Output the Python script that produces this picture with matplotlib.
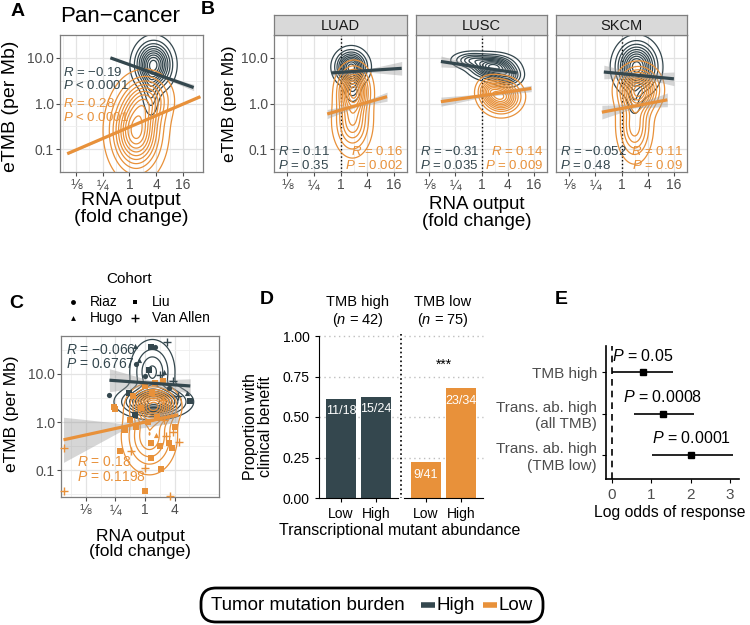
import numpy as np
import matplotlib.pyplot as plt
from matplotlib.patches import FancyBboxPatch
from matplotlib.lines import Line2D

plt.rcParams['font.family'] = ['Liberation Sans', 'DejaVu Sans']
plt.rcParams['mathtext.fontset'] = 'custom'
plt.rcParams['mathtext.it'] = 'Liberation Sans:italic'
plt.rcParams['mathtext.rm'] = 'Liberation Sans'

DARK = '#34474e'
ORANGE = '#e8913a'
TICKCOL = '#4d4d4d'
W, H = 750, 625

# ---------------- data ----------------
# x = log2 RNA output (fold change), y = log10 eTMB (per Mb)
fc_ticks = [-4, -2, 0, 2, 4]
fc_labels = ['⅛', '¼', '1', '4', '16']
tmb_ticks = [-1, 0, 1]
tmb_labels = ['0.1', '1.0', '10.0']

# 2d density estimates, read off as blobs: (x, y, sx, sy, weight)
pan_high_blobs = [(1.8, 0.85, 0.75, 0.28, 1.0), (1.6, 0.25, 0.35, 0.3, 0.25)]
pan_low_blobs = [(0.5, -0.6, 1.05, 0.5, 1.0), (1.4, 0.1, 0.95, 0.3, 0.45)]
luad_high_blobs = [(0.8, 0.8, 0.65, 0.2, 1.0), (0.9, 0.4, 0.35, 0.2, 0.3)]
luad_low_blobs = [(1.0, 0.3, 0.65, 0.28, 1.0), (0.9, -0.4, 0.75, 0.38, 0.6)]
lusc_high_blobs = [(0.9, 0.8, 0.9, 0.14, 1.0), (-0.8, 0.95, 0.8, 0.1, 0.4), (2.0, 0.6, 0.6, 0.12, 0.5)]
lusc_low_blobs = [(1.5, 0.15, 0.8, 0.2, 1.0), (0.6, 0.3, 0.5, 0.15, 0.4)]
skcm_high_blobs = [(1.15, 0.8, 0.85, 0.3, 1.0), (1.0, 0.1, 0.3, 0.2, 0.2)]
skcm_low_blobs = [(1.3, 0.3, 0.85, 0.27, 1.0), (1.0, -0.5, 0.7, 0.4, 0.55)]
cohort_high_blobs = [(0.6, 0.42, 1.15, 0.16, 1.0), (0.5, 1.05, 0.8, 0.35, 0.4)]
cohort_low_blobs = [(0.6, 0.35, 0.8, 0.2, 1.0), (0.3, -0.3, 0.95, 0.4, 0.5)]

# regression fits: x range, fitted y at ends, CI half width (left, middle, right)
pan_high_fit = ([-1.43, 4.8], [1.0, 0.35], [0.03, 0.015, 0.07])
pan_low_fit = ([-4.66, 5.3], [-1.1, 0.15], [0.02, 0.01, 0.02])
luad_high_fit = ([-0.64, 4.6], [0.67, 0.77], [0.07, 0.03, 0.15])
luad_low_fit = ([-1.0, 3.5], [-0.23, 0.15], [0.1, 0.03, 0.1])
lusc_high_fit = ([-3.1, 2.7], [0.92, 0.67], [0.12, 0.03, 0.08])
lusc_low_fit = ([-3.1, 3.8], [0.04, 0.33], [0.1, 0.03, 0.07])
skcm_high_fit = ([-1.35, 4.0], [0.69, 0.54], [0.15, 0.04, 0.15])
skcm_low_fit = ([-1.5, 3.5], [-0.19, 0.08], [0.15, 0.04, 0.15])
cohort_high_fit = ([-2.4, 3.06], [0.87, 0.75], [0.24, 0.06, 0.15])
cohort_low_fit = ([-5.5, 2.25], [-0.37, 0.15], [0.47, 0.08, 0.15])

pan_stats = [('−0.19', '< 0.0001'), ('0.28', '< 0.0001')]
b_names = ['LUAD', 'LUSC', 'SKCM']
b_stats = [(('0.11', '= 0.35'), ('0.16', '= 0.002')),
           (('−0.31', '= 0.035'), ('0.14', '= 0.009')),
           (('−0.052', '= 0.48'), ('0.11', '= 0.09'))]
cohort_stats = [('−0.066', '= 0.6767'), ('0.18', '= 0.1198')]

# panel C patients: (log2 fold change, log10 eTMB, cohort)
c_high_pts = [(1.5, 1.67, 'Van Allen'), (-0.69, 1.58, 'Hugo'), (0.4, 1.56, 'Liu'),
              (0.69, 1.56, 'Riaz'), (-0.4, 1.3, 'Hugo'), (-0.6, 1.2, 'Riaz'),
              (0.29, 1.08, 'Liu'), (1.3, 1.04, 'Hugo'), (1.0, 0.98, 'Van Allen'),
              (-2.4, 0.56, 'Riaz'), (3.07, 0.44, 'Liu'), (2.85, 0.6, 'Hugo'),
              (-0.7, 0.15, 'Liu'), (-1.1, 0.6, 'Liu'), (0.0, 0.95, 'Riaz'),
              (1.6, 0.7, 'Riaz'), (2.2, 0.55, 'Van Allen'), (1.9, 0.85, 'Van Allen')]
c_low_pts = [(-5.49, -0.55, 'Van Allen'), (-5.49, -1.43, 'Van Allen'), (-2.06, 0.32, 'Liu'),
             (-1.67, -0.6, 'Liu'), (-0.92, -0.6, 'Van Allen'), (0.0, -1.44, 'Liu'),
             (1.1, -0.98, 'Liu'), (0.0, -0.96, 'Van Allen'), (0.4, -0.75, 'Liu'),
             (2.3, -0.42, 'Van Allen'), (1.6, -0.44, 'Liu'), (0.75, -0.27, 'Hugo'),
             (0.4, -0.44, 'Liu'), (-2.0, 0.27, 'Liu'), (-1.35, -0.17, 'Liu'),
             (1.3, 0.04, 'Van Allen'), (-1.0, 0.05, 'Liu'), (-0.6, -0.1, 'Liu'),
             (0.2, 0.0, 'Liu'), (0.8, 0.1, 'Liu'), (1.4, -0.3, 'Van Allen'),
             (1.9, -0.2, 'Van Allen'), (1.0, -0.5, 'Liu'), (1.8, -0.55, 'Liu'),
             (-0.3, 0.3, 'Liu'), (0.5, 0.6, 'Liu'), (-0.8, 0.55, 'Liu'),
             (1.2, 0.45, 'Van Allen'), (2.0, -0.1, 'Liu'), (0.7, 0.82, 'Liu'),
             (1.2, 0.85, 'Liu'), (0.0, 0.75, 'Liu'), (1.68, -1.53, 'Van Allen')]
cohorts = ['Riaz', 'Hugo', 'Liu', 'Van Allen']
cohort_markers = {'Riaz': 'o', 'Hugo': '^', 'Liu': 's', 'Van Allen': '+'}

# panel D
d_groups = ['TMB high', 'TMB low']
d_n = [42, 75]
d_cats = ['Low', 'High']
d_resp = [[11, 15], [9, 23]]
d_total = [[18, 24], [41, 34]]

# panel E
e_labels = ['TMB high', 'Trans. ab. high\n(all TMB)', 'Trans. ab. high\n(TMB low)']
e_est = [0.78, 1.3, 2.02]
e_lo = [0.0, 0.57, 1.02]
e_hi = [1.55, 2.08, 3.08]
e_p = ['0.05', '0.0008', '0.0001']


# ---------------- helpers ----------------
fig = plt.figure(figsize=(7.5, 6.25), dpi=100)


def px_axes(x0, y0, x1, y1):
    return fig.add_axes([x0 / W, 1 - y1 / H, (x1 - x0) / W, (y1 - y0) / H])


def ftext(x, y, s, **kw):
    fig.text(x / W, 1 - y / H, s, **kw)


def style_bw(ax, xlim, ylim, show_y=True):
    ax.set_xlim(*xlim)
    ax.set_ylim(*ylim)
    ax.set_xticks(fc_ticks)
    ax.set_xticklabels(fc_labels)
    ax.set_yticks(tmb_ticks)
    ax.set_yticklabels(tmb_labels if show_y else [])
    ax.set_xticks([-5, -3, -1, 1, 3, 5], minor=True)
    ax.set_yticks([-1.5, -0.5, 0.5, 1.5], minor=True)
    ax.grid(True, which='major', color='#e3e3e3', lw=0.9)
    ax.grid(True, which='minor', color='#eeeeee', lw=0.6)
    ax.set_axisbelow(True)
    for s in ax.spines.values():
        s.set_color('#7f7f7f')
        s.set_linewidth(0.9)
    ax.tick_params(which='major', length=3, pad=1.5, color='#4d4d4d', labelcolor=TICKCOL, labelsize=10)
    ax.tick_params(which='minor', length=0)


def density(ax, blobs, color):
    gx = np.linspace(-7, 7, 300)
    gy = np.linspace(-2.5, 2.5, 300)
    X, Y = np.meshgrid(gx, gy)
    Z = np.zeros_like(X)
    for x, y, sx, sy, w in blobs:
        Z += w * np.exp(-0.5 * (((X - x) / sx) ** 2 + ((Y - y) / sy) ** 2))
    levels = np.linspace(0.06, 0.93, 10) * Z.max()
    ax.contour(X, Y, Z, levels=levels, colors=color, linewidths=0.9, zorder=2)


def fit(ax, f, color):
    xs, ys, ci = f
    xm = (xs[0] + xs[1]) / 2
    ym = (ys[0] + ys[1]) / 2
    bx = [xs[0], xm, xs[1]]
    by = [ys[0], ym, ys[1]]
    ax.fill_between(bx, np.array(by) - ci, np.array(by) + ci, color='#999999', alpha=0.4, lw=0, zorder=3)
    ax.plot(xs, ys, color=color, lw=2.3, zorder=4, solid_capstyle='butt')


def stat_text(ax, x, y, stats, color, ha='left', size=9.5):
    r, p = stats
    ax.text(x, y, '$R$ = %s\n$P$ %s' % (r, p), color=color, ha=ha, va='center',
            fontsize=size, linespacing=1.05, transform=ax.transAxes, zorder=5)


# ---------------- panel A ----------------
axA = px_axes(60, 35, 203, 172)
style_bw(axA, (-5.2, 5.5), (-1.42, 1.44))
density(axA, pan_high_blobs, DARK)
density(axA, pan_low_blobs, ORANGE)
fit(axA, pan_high_fit, DARK)
fit(axA, pan_low_fit, ORANGE)
stat_text(axA, 0.02, 0.68, pan_stats[0], DARK)
stat_text(axA, 0.02, 0.45, pan_stats[1], ORANGE)
ftext(60, 17, 'Pan−cancer', fontsize=16, va='center')
ftext(18, 12, 'A', fontsize=14, fontweight='bold', va='center', ha='center')
ftext(131, 209, 'RNA output\n(fold change)', fontsize=14, ha='center', va='center', linespacing=1.05)
ftext(11, 106, 'eTMB (per Mb)', fontsize=14, rotation=90, ha='center', va='center')

# ---------------- panel B ----------------
b_boxes = [(274, 407), (416, 547), (556, 687)]
b_blobs = [(luad_high_blobs, luad_low_blobs), (lusc_high_blobs, lusc_low_blobs),
           (skcm_high_blobs, skcm_low_blobs)]
b_fits = [(luad_high_fit, luad_low_fit), (lusc_high_fit, lusc_low_fit),
          (skcm_high_fit, skcm_low_fit)]
for i, (x0, x1) in enumerate(b_boxes):
    ax = px_axes(x0, 35, x1, 172)
    style_bw(ax, (-3.47, 5.0), (-1.42, 1.44), show_y=(i == 0))
    if i > 0:
        ax.tick_params(axis='y', length=0)
    ax.axvline(0, color='black', ls=':', lw=1, zorder=1)
    density(ax, b_blobs[i][0], DARK)
    density(ax, b_blobs[i][1], ORANGE)
    fit(ax, b_fits[i][0], DARK)
    fit(ax, b_fits[i][1], ORANGE)
    stat_text(ax, 0.03, 0.1, b_stats[i][0], DARK)
    stat_text(ax, 0.97, 0.1, b_stats[i][1], ORANGE, ha='right')
    sax = px_axes(x0, 15, x1, 35)
    sax.set_facecolor('#d9d9d9')
    sax.set_xticks([])
    sax.set_yticks([])
    for s in sax.spines.values():
        s.set_color('#7f7f7f')
        s.set_linewidth(0.9)
    sax.text(0.5, 0.45, b_names[i], ha='center', va='center', fontsize=10.5, color='#1a1a1a',
             transform=sax.transAxes)
ftext(208, 10, 'B', fontsize=14, fontweight='bold', va='center', ha='center')
ftext(477, 213, 'RNA output\n(fold change)', fontsize=13.5, ha='center', va='center', linespacing=1.05)
ftext(230, 104, 'eTMB (per Mb)', fontsize=12.5, rotation=90, ha='center', va='center')

# ---------------- panel C ----------------
axC = px_axes(61, 336, 219, 497)
style_bw(axC, (-5.67, 3.45), (-1.56, 1.79))
axC.set_xticks([-4, -2, 0, 2])
axC.set_xticklabels(['⅛', '¼', '1', '4'])
density(axC, cohort_high_blobs, DARK)
density(axC, cohort_low_blobs, ORANGE)
for pts, col in [(c_high_pts, DARK), (c_low_pts, ORANGE)]:
    for c in cohorts:
        xs = [p[0] for p in pts if p[2] == c]
        ys = [p[1] for p in pts if p[2] == c]
        m = cohort_markers[c]
        axC.scatter(xs, ys, marker=m, s=14 if m != '+' else 40, color=col,
                    linewidths=1 if m == '+' else 0, zorder=4, clip_on=False)
fit(axC, cohort_high_fit, DARK)
fit(axC, cohort_low_fit, ORANGE)
stat_text(axC, 0.03, 0.87, cohort_stats[0], DARK, size=10)
stat_text(axC, 0.1, 0.17, cohort_stats[1], ORANGE, size=10)

# cohort legend (two columns, drawn by hand to match spacing)
ftext(129, 279, 'Cohort', fontsize=11, ha='center', va='center')
leg_pos = {'Riaz': (73, 302), 'Hugo': (73, 318), 'Liu': (135, 302), 'Van Allen': (135, 318)}
for c in cohorts:
    lx, ly = leg_pos[c]
    m = cohort_markers[c]
    fig.add_artist(Line2D([lx / W], [1 - ly / H], ls='', marker=m, color='black',
                          markersize=3.5 if m != '+' else 6, markeredgewidth=1 if m == '+' else 0))
    ftext(lx + 17, ly, c, fontsize=10, ha='left', va='center')
ftext(16, 303, 'C', fontsize=14, fontweight='bold', va='center', ha='center')
ftext(140, 544, 'RNA output\n(fold change)', fontsize=12.5, ha='center', va='center', linespacing=1.05)
ftext(12, 414, 'eTMB (per Mb)', fontsize=12.5, rotation=90, ha='center', va='center')

# ---------------- panel D ----------------
d_boxes = [(319, 398), (404, 483)]
d_colors = [DARK, ORANGE]
for i, (x0, x1) in enumerate(d_boxes):
    ax = px_axes(x0, 336, x1, 498)
    props = [r / t for r, t in zip(d_resp[i], d_total[i])]
    ax.bar(range(len(d_cats)), props, width=0.87, color=d_colors[i], zorder=2)
    for j, p in enumerate(props):
        ax.text(j, p - 0.075, '%d/%d' % (d_resp[i][j], d_total[i][j]), color='white',
                ha='center', va='center', fontsize=9)
    ax.set_xlim(-0.62, 1.62)
    ax.set_ylim(0, 1.0)
    ax.set_xticks(range(len(d_cats)))
    ax.set_xticklabels(d_cats)
    ax.set_yticks([0, 0.25, 0.5, 0.75, 1.0])
    for yv in [0.25, 0.5, 0.75, 1.0]:
        ax.axhline(yv, color='#bfbfbf', ls=(0, (1, 2.5)), lw=1, zorder=1, clip_on=False)
    ax.spines['top'].set_visible(False)
    ax.spines['right'].set_visible(False)
    ax.tick_params(labelsize=10, colors='black', length=3)
    if i == 0:
        ax.set_yticklabels(['0.00', '0.25', '0.50', '0.75', '1.00'])
    else:
        ax.spines['left'].set_visible(False)
        ax.tick_params(axis='y', length=0, labelleft=False)
        ax.text(0.5, 0.82, '***', ha='center', va='center', fontsize=10)
    ftext((x0 + x1) / 2 - 1, 312, '%s\n($\\it{n}$ = %d)' % (d_groups[i], d_n[i]),
          ha='center', va='center', fontsize=10.5, linespacing=1.1)
fig.add_artist(Line2D([401 / W, 401 / W], [1 - 334 / H, 1 - 498 / H], color='black', ls=':', lw=1.2))
ftext(267, 300, 'D', fontsize=14, fontweight='bold', va='center', ha='center')
ftext(258, 427, 'Proportion with\nclinical benefit', fontsize=11.5, rotation=90, ha='center', va='center',
      linespacing=1.05)
ftext(400, 531, 'Transcriptional mutant abundance', fontsize=11.5, ha='center', va='center')

# ---------------- panel E ----------------
axE = px_axes(606, 346, 739, 479)
rows = [3, 2, 1]
axE.hlines(rows, e_lo, e_hi, color='black', lw=1.2, zorder=3)
axE.plot(e_est, rows, 's', color='black', markersize=5, zorder=4)
for r, e, p in zip(rows, e_est, e_p):
    axE.text(e, r + 0.4, '$P$ = %s' % p, ha='center', va='center', fontsize=11.5)
axE.axvline(0, color='black', ls=(0, (4, 3)), lw=1.2, zorder=2)
axE.set_xlim(-0.15, 3.23)
axE.set_ylim(0.42, 3.63)
axE.set_yticks(rows)
axE.set_yticklabels(e_labels)
axE.set_xticks([0, 1, 2, 3])
axE.spines['top'].set_visible(False)
axE.spines['right'].set_visible(False)
axE.spines['left'].set_linewidth(1.2)
axE.spines['bottom'].set_linewidth(1.2)
axE.tick_params(labelsize=11, labelcolor=TICKCOL, length=3)
ftext(561, 300, 'E', fontsize=14, fontweight='bold', va='center', ha='center')
ftext(670, 513, 'Log odds of response', fontsize=11.3, ha='center', va='center')

# ---------------- legend ----------------
lax = px_axes(195, 584, 548, 626)
lax.set_xlim(195, 548)
lax.set_ylim(626, 584)
lax.axis('off')
lax.add_patch(FancyBboxPatch((201, 588), 342, 34, boxstyle='round,pad=0,rounding_size=15',
                             fc='white', ec='black', lw=2))
lax.text(211, 605, 'Tumor mutation burden', fontsize=13.5, va='center', ha='left')
lax.plot([421, 435], [605, 605], color=DARK, lw=4, solid_capstyle='butt')
lax.text(437, 605, 'High', fontsize=13.5, va='center', ha='left')
lax.plot([483, 497], [605, 605], color=ORANGE, lw=4, solid_capstyle='butt')
lax.text(499, 605, 'Low', fontsize=13.5, va='center', ha='left')

fig.savefig('out.png', dpi=100)
